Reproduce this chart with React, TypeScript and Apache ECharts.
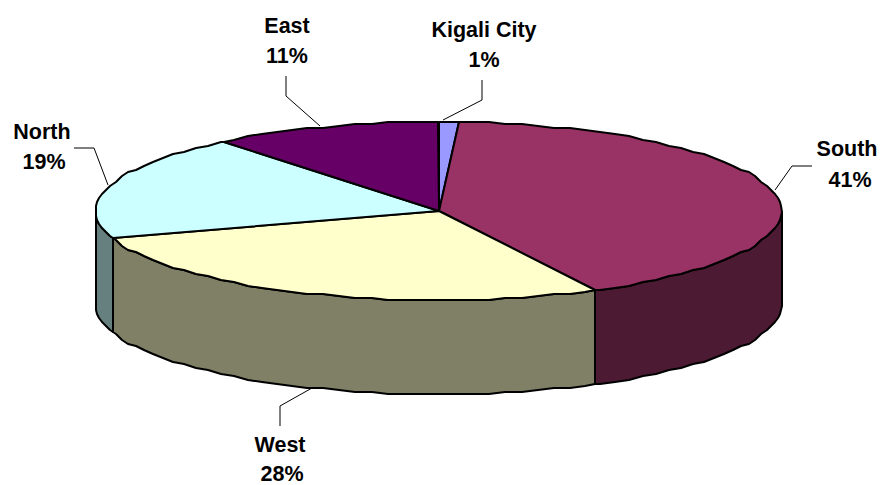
import React, { useEffect, useRef } from "react";
import * as echarts from "echarts";

const categories = ["Kigali City", "South", "West", "North", "East"];
const shares = [0.95, 41.49, 27.51, 19.3, 10.75];
const topColors = ["#9999FF", "#993366", "#FFFFCC", "#CCFFFF", "#660066"];
const sideColors = ["#4D4D80", "#4D1A33", "#808066", "#668080", "#330033"];

const CX = 438.5;
const CY = 211;
const RX = 343;
const RY = 89;
const DEPTH = 94;
const STEP = Math.PI / 64;
const GRID = 2;
const FONT = "'Liberation Sans', Arial, sans-serif";

// label anchors and leader lines, in category order
const labelLayout = [
  { name: [484, 30], pct: [484, 60], leader: [[482, 80], [482, 100], [443, 120]] },
  { name: [847, 149], pct: [850, 180], leader: [[812, 166], [792, 166], [775, 190]] },
  { name: [280, 445], pct: [282, 473.5], leader: [[280, 426], [280, 406], [312, 388]] },
  { name: [42, 132], pct: [44, 162], leader: [[74, 148], [94, 148], [108, 185]] },
  { name: [287, 26], pct: [287, 56], leader: [[286, 76], [286, 96], [320, 126]] },
];

const total = shares.reduce((a, b) => a + b, 0);

function sliceAngles(index: number) {
  let sum = 0;
  for (let i = 0; i < index; i++) sum += shares[i];
  const start = (sum / total) * 2 * Math.PI;
  return [start, start + (shares[index] / total) * 2 * Math.PI];
}

function snap(v: number) {
  return Math.round(v / GRID) * GRID;
}

function pt(a: number, dy = 0): number[] {
  return [Math.round(CX + RX * Math.sin(a)), snap(CY - RY * Math.cos(a)) + dy];
}

function arc(a: number, b: number, dy = 0): number[][] {
  const out = [pt(a, dy)];
  let k = Math.ceil(a / STEP + 1e-6);
  while (k * STEP < b - 1e-6) {
    out.push(pt(k * STEP, dy));
    k++;
  }
  out.push(pt(b, dy));
  return out;
}

const stroke = { stroke: "#000", lineWidth: 2, lineJoin: "round" };

function renderSide(params: any) {
  const [s, e] = sliceAngles(params.dataIndex);
  const a = Math.max(s, Math.PI / 2);
  const b = Math.min(e, (3 * Math.PI) / 2);
  if (b <= a) return { type: "group", children: [] };
  const points = [...arc(a, b), ...arc(a, b, DEPTH).reverse()];
  return {
    type: "polygon",
    shape: { points },
    style: { fill: sideColors[params.dataIndex], ...stroke },
  };
}

function renderTop(params: any) {
  const [s, e] = sliceAngles(params.dataIndex);
  const points = [[Math.round(CX), CY], ...arc(s, e)];
  return {
    type: "polygon",
    shape: { points },
    style: { fill: topColors[params.dataIndex], ...stroke },
  };
}

function renderLabel(params: any) {
  const i = params.dataIndex;
  const l = labelLayout[i];
  const text = (t: string, p: number[]) => ({
    type: "text",
    x: p[0],
    y: p[1],
    style: {
      text: t,
      x: 0,
      y: 0,
      align: "center",
      verticalAlign: "middle",
      fill: "#000",
      font: `bold 21.5px ${FONT}`,
    },
  });
  return {
    type: "group",
    children: [
      {
        type: "polyline",
        shape: { points: l.leader },
        style: { fill: "none", stroke: "#000", lineWidth: 1 },
      },
      text(categories[i], l.name),
      text(`${Math.round(shares[i])}%`, l.pct),
    ],
  };
}

export default function App() {
  const ref = useRef<HTMLDivElement>(null);
  useEffect(() => {
    document.body.style.margin = "0";
    const chart = echarts.init(ref.current!, undefined, { renderer: "svg" });
    const data = shares.map((v) => [v]);
    chart.setOption({
      animation: false,
      backgroundColor: "#fff",
      series: [
        { type: "custom", coordinateSystem: "none", z: 1, data, renderItem: renderSide, silent: true },
        { type: "custom", coordinateSystem: "none", z: 2, data, renderItem: renderTop, silent: true },
        { type: "custom", coordinateSystem: "none", z: 3, data, renderItem: renderLabel, silent: true },
      ],
    });
    return () => chart.dispose();
  }, []);
  return <div ref={ref} style={{ position: "absolute", left: 0, top: 0, width: 884, height: 485 }} />;
}
